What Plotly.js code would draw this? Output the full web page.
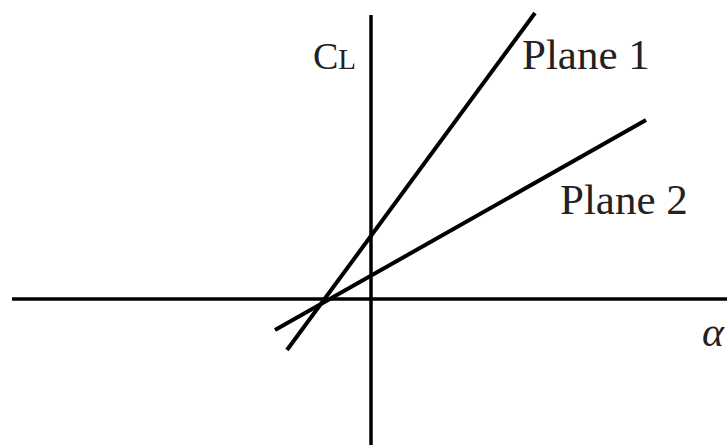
<!DOCTYPE html>
<html>
<head>
<meta charset="utf-8">
<script src="https://cdn.plot.ly/plotly-3.0.1.min.js"></script>
<style>html,body{margin:0;padding:0;background:#fff;}#chart{width:727px;height:445px;}</style>
</head>
<body>
<div id="chart"></div>
<script>
// Schematic lift curves: angle of attack (alpha) vs lift coefficient (CL)
var plane1Alpha = [-1.68, 3.28];
var plane1CL    = [-1.02, 5.72];
var plane2Alpha = [-1.92, 5.50];
var plane2CL    = [-0.62, 3.58];
var alphaAxisX  = [-7.18, 7.40];
var alphaAxisY  = [0, 0];
var clAxisX     = [0, 0];
var clAxisY     = [-3.2, 5.68];
var labels = ["C<span style='font-size:29px'>L</span>", "Plane 1", "Plane 2", "α"];

var serif = "Liberation Serif, Times New Roman, serif";
var traces = [
  {x: alphaAxisX, y: alphaAxisY, mode: "lines", line: {color: "#000", width: 3.5}, hoverinfo: "skip"},
  {x: clAxisX, y: clAxisY, mode: "lines", line: {color: "#000", width: 3.5}, hoverinfo: "skip"},
  {x: plane1Alpha, y: plane1CL, mode: "lines", name: labels[1], line: {color: "#000", width: 4}},
  {x: plane2Alpha, y: plane2CL, mode: "lines", name: labels[2], line: {color: "#000", width: 4}}
];

var layout = {
  width: 727, height: 445,
  margin: {l: 0, r: 0, t: 0, b: 0},
  paper_bgcolor: "#fff", plot_bgcolor: "#fff",
  showlegend: false,
  xaxis: {range: [-7.42, 7.12], visible: false, fixedrange: true},
  yaxis: {range: [-2.92, 5.98], visible: false, fixedrange: true},
  annotations: [
    {x: -0.74, y: 4.86, text: labels[0], showarrow: false, xanchor: "center", yanchor: "middle",
     font: {family: serif, size: 38, color: "#222"}},
    {x: 4.29, y: 4.9, text: labels[1], showarrow: false, xanchor: "center", yanchor: "middle",
     font: {family: serif, size: 43, color: "#222"}},
    {x: 5.06, y: 2.0, text: labels[2], showarrow: false, xanchor: "center", yanchor: "middle",
     font: {family: serif, size: 43, color: "#222"}},
    {x: 7.11, y: -0.66, text: "<i>" + labels[3] + "</i>", showarrow: false, xanchor: "right", yanchor: "middle",
     font: {family: serif, size: 42, color: "#222"}}
  ]
};

Plotly.newPlot("chart", traces, layout, {staticPlot: true, displayModeBar: false});
</script>
</body>
</html>
